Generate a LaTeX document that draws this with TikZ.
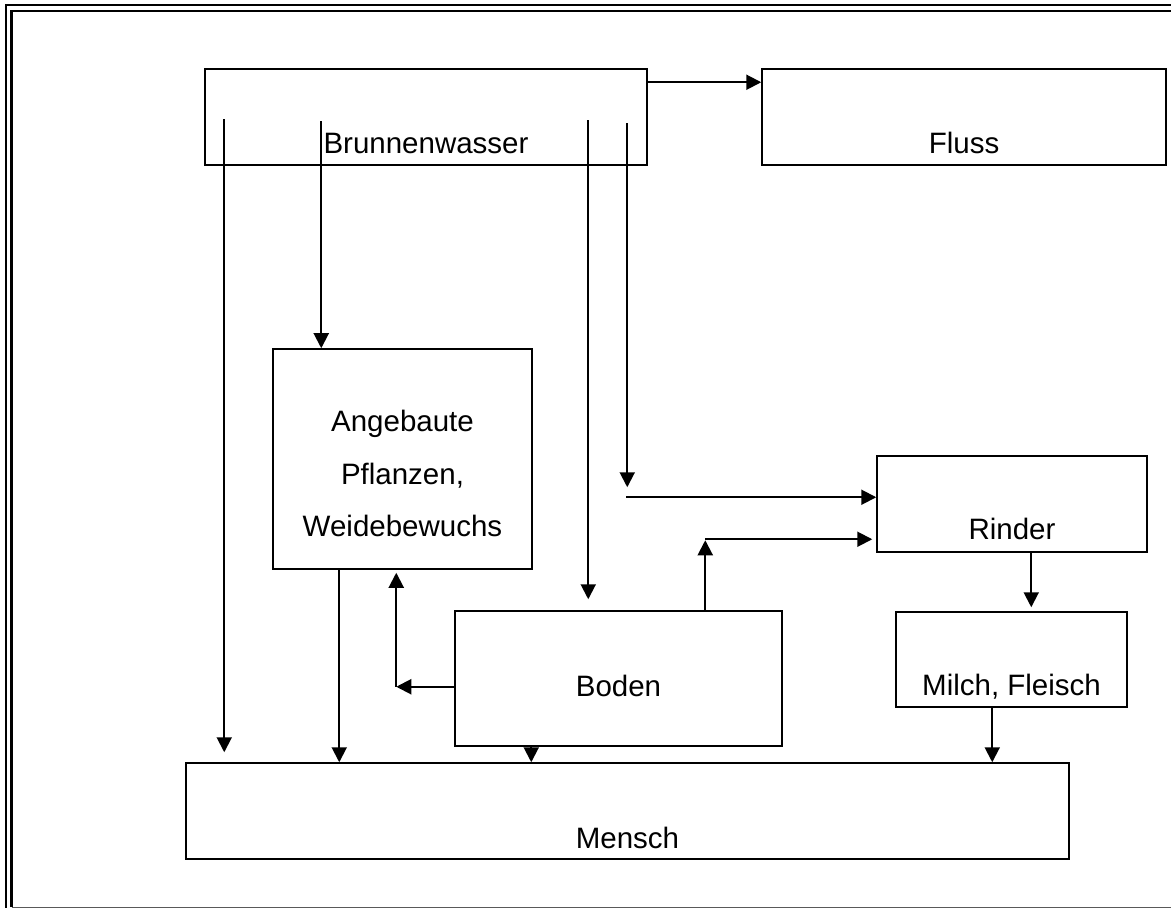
\documentclass[tikz,border=0pt]{standalone}
\usepackage{fontspec}
\setmainfont{Liberation Sans}
\usetikzlibrary{calc, arrows.meta}

\begin{document}
\begin{tikzpicture}[x=.5pt, y=-.5pt, >={Triangle[length=7.5pt, width=7.5pt]}]
    \tikzstyle{box} = [rectangle, draw, line width=.75pt, inner sep=0pt,
        font=\fontsize{14.75}{26}\selectfont]
    \tikzstyle{flow} = [->, line width=1pt]

    \useasboundingbox (0, 0) rectangle (1171, 908);

    % Frame ---------------------------------------------
    \draw[line width=.85pt] (6, 908) -- (6, 5) -- (1171, 5);
    \draw[line width=1.25pt] (11.5, 907) -- (11.5, 11) -- (1171, 11);
    \draw[gray!70!black, line width=.5pt] (11.5, 907) -- (1171, 907);

    % Boxes ---------------------------------------------
    \node (brunnen) at (426, 117) [box, minimum width=221pt, text height=42.5pt, text depth=5.5pt] {Brunnenwasser};
    \node (fluss) at (964, 117) [box, minimum width=202pt, text height=42.5pt, text depth=5.5pt] {Fluss};
    \node (pflanzen) at (402.5, 459) [box, minimum width=129.5pt, text height=93.5pt, text depth=16.5pt, align=center] {Angebaute\\Pflanzen,\\Weidebewuchs};
    \node (rinder) at (1012, 504) [box, minimum width=135pt, text height=41.5pt, text depth=6.5pt] {Rinder};
    \node (milch) at (1011.5, 659.5) [box, minimum width=115.5pt, text height=41.5pt, text depth=6pt] {Milch, Fleisch};
    \node (boden) at (618.5, 678.5) [box, minimum width=163.5pt, text height=42.5pt, text depth=25pt] {Boden};
    \node (mensch) at (627.5, 811) [box, minimum width=441.5pt, text height=42.5pt, text depth=5.5pt] {Mensch};
    % ---------------------------------------------------

    % Bends
    \coordinate (wasserknick) at ($(rinder.north west) + (-250, 42)$);
    \coordinate (bodenknick) at ($(pflanzen.south west) + (124, 117)$);
    \coordinate (rinderknick) at ($(boden.north west) + (251, -70)$);

    % Flows ---------------------------------------------
    \draw [flow] ($(brunnen.north east) + (0, 14)$) -- ($(fluss.north west) + (0, 14)$);
    \draw [flow] ($(brunnen.north west) + (20, 51)$) -- ($(brunnen.north west |- mensch.north) + (20, -10)$);
    \draw [flow] ($(pflanzen.north west |- brunnen.north) + (49, 53)$) -- ($(pflanzen.north west) + (49, 0)$);
    \draw [flow] ($(boden.north west |- brunnen.north) + (134, 52)$) -- ($(boden.north west) + (134, -11)$);
    \draw [flow] ($(wasserknick |- brunnen.north) + (1, 55)$) -- ($(wasserknick) + (1, -10)$);
    \draw [flow] (wasserknick) -- ($(rinder.north west) + (0, 42)$);

    \draw [flow] ($(pflanzen.south west) + (67, 0)$) -- ($(pflanzen.south west |- mensch.north) + (67, 0)$);
    \draw [flow] ($(boden.south west) + (77, 0)$) -- ($(boden.south west |- mensch.north) + (77, 0)$);
    \draw [flow] ($(milch.south west) + (97, 0)$) -- ($(milch.south west |- mensch.north) + (97, 0)$);

    \draw [flow] (boden.west |- bodenknick) -- (bodenknick);
    \draw [flow] (bodenknick) -- ($(pflanzen.south west) + (124, 3)$);
    \draw [flow] ($(boden.north west) + (251, 0)$) -- (rinderknick);
    \draw [flow] ($(rinderknick) + (0, -1)$) -- ($(rinderknick -| rinder.west) + (-4, -1)$);
    \draw [flow] ($(rinder.south west) + (155, 0)$) -- ($(rinder.south west |- milch.north) + (155, -4)$);
\end{tikzpicture}
\end{document}
